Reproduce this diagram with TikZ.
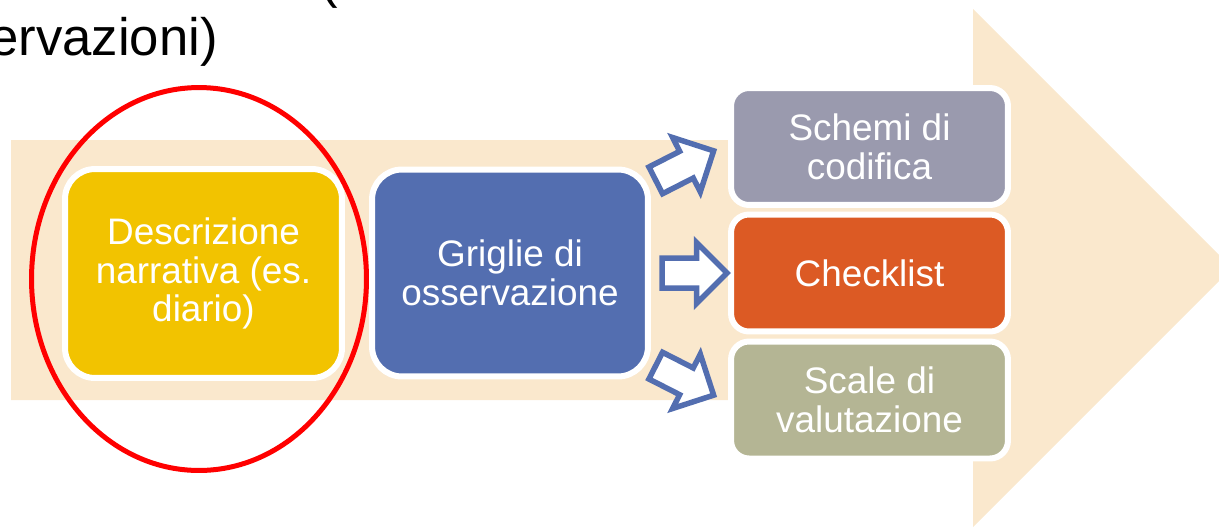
\documentclass[tikz,border=0pt]{standalone}
\usepackage{fontspec}
\setmainfont{Liberation Sans}
\usetikzlibrary{shapes.arrows}

\definecolor{bandbeige}{RGB}{250,232,205}
\definecolor{cardyellow}{RGB}{242,195,0}
\definecolor{cardblue}{RGB}{83,110,176}
\definecolor{cardgrey}{RGB}{154,154,174}
\definecolor{cardorange}{RGB}{220,90,36}
\definecolor{cardolive}{RGB}{180,181,148}

\begin{document}
\begin{tikzpicture}[x=0.02cm,y=-0.02cm,
    bigcard/.style={rectangle,rounded corners=0.6cm,draw=white,line width=0.12cm,
      minimum width=5.54cm,minimum height=4.18cm,text=white,align=center,
      font=\fontsize{21}{22}\selectfont},
    smallcard/.style={bigcard,rounded corners=0.36cm,minimum height=2.34cm},
    blockarrow/.style={single arrow,draw=cardblue,fill=white,line width=0.11cm,
      minimum height=1.3cm,single arrow head extend=0.31cm,inner xsep=0,inner ysep=0.245cm}]
    \useasboundingbox (0,0) rectangle (1219,528);
    \clip (0,0) rectangle (1219,528);

    \fill[bandbeige] (11,140) -- (973,140) -- (973,9) -- (1232,268) -- (973,527) -- (973,400) -- (11,400) -- cycle;

    \node[anchor=base west,inner sep=0,font=\fontsize{30}{36}\selectfont] at (320,-3) (paren) {(};
    \node[anchor=base east,inner sep=0,font=\fontsize{30}{36}\selectfont] at (218,55) (title) {ervazioni)};

    \node at (203.5,273.5) (diario) [bigcard,fill=cardyellow] {Descrizione\\narrativa (es.\\diario)};
    \node at (510,273) (griglie) [bigcard,fill=cardblue,minimum width=5.52cm,minimum height=4.14cm] {Griglie di\\osservazione};
    \node at (869.5,146.5) (schemi) [smallcard,fill=cardgrey] {Schemi di\\codifica};
    \node at (869.5,273) (checklist) [smallcard,fill=cardorange] {Checklist};
    \node at (869.5,400) (scale) [smallcard,fill=cardolive] {Scale di\\valutazione};

    \node at (678,169) (toschemi) [blockarrow,rotate=27] {};
    \node at (687,273) (tochecklist) [blockarrow] {};
    \node at (678,377) (toscale) [blockarrow,rotate=-27] {};

    \draw[red,line width=0.1cm] (199,279) ellipse [x radius=3.35cm,y radius=3.83cm];
  \end{tikzpicture}
\end{document}
